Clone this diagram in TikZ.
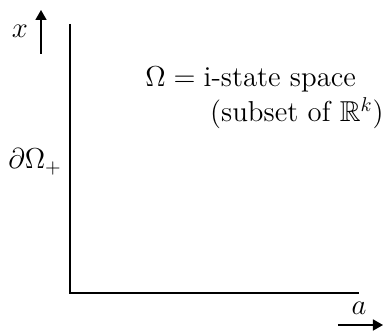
\documentclass[tikz,border=0pt]{standalone}
\usepackage{amssymb}
\usetikzlibrary{arrows.meta}
\tikzset{
  axisline/.style={line width=0.8pt},
  dirarrow/.style={line width=0.8pt,-{Triangle[width=5.5pt,length=5pt]}},
  lbl/.style={inner sep=0pt,font=\fontsize{14.4}{17}\selectfont}
}
\begin{document}
\begin{tikzpicture}[x=0.5pt,y=-0.5pt]
\useasboundingbox (0,0) rectangle (387,331);
\coordinate (top) at (70,24);
\coordinate (origin) at (70,293);
\coordinate (right) at (359,293);
\draw[axisline] (top) -- (origin) -- (right);
\coordinate (xs) at (41,54);
\coordinate (xe) at (41,10);
\draw[dirarrow] (xs) -- (xe);
\node[lbl,anchor=base] (xl) at (20,38) {$x$};
\coordinate (as) at (338,325);
\coordinate (ae) at (383,325);
\draw[dirarrow] (as) -- (ae);
\node[lbl,anchor=base] (al) at (359,315) {$a$};
\node[lbl,anchor=base west] (bd) at (8,169) {$\partial\Omega_+$};
\node[lbl,anchor=base west] (t1) at (145,87) {$\Omega = \mbox{i-state space}$};
\node[lbl,anchor=base east] (t2) at (384,122) {(subset of $\mathbb{R}^k$)};
\end{tikzpicture}
\end{document}
